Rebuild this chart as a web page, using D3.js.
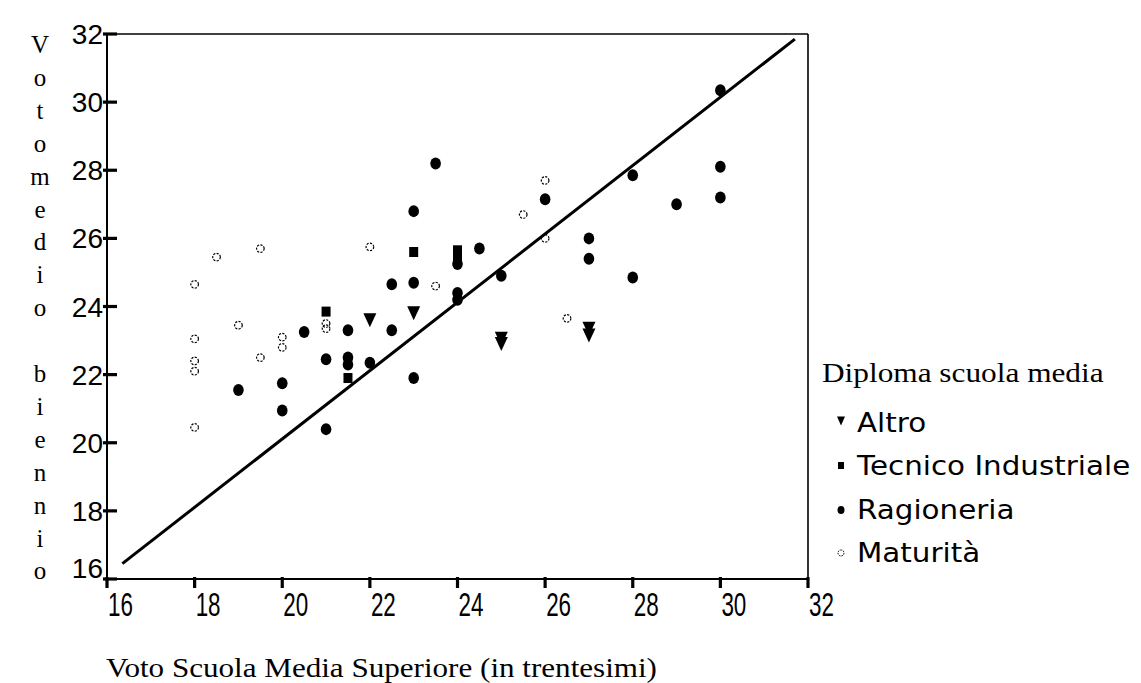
<!DOCTYPE html>
<html><head><meta charset="utf-8">
<script src="https://cdn.jsdelivr.net/npm/d3@7"></script>
<style>body{margin:0;background:#fff}svg{display:block}</style>
</head><body>
<svg id="c" width="1141" height="683"></svg>
<script>
// ---------- data ----------
const xTicks = [16,18,20,22,24,26,28,30,32];
const yTicks = [16,18,20,22,24,26,28,30,32];
const refLineX = [16.35, 31.7];
const refLineY = [16.45, 31.85];

const altroX = [22, 23, 25, 25, 27, 27];
const altroY = [23.6, 23.8, 23.05, 22.9, 23.35, 23.15];

const tecnicoX = [21, 21.5, 23, 24, 24];
const tecnicoY = [23.85, 21.9, 25.6, 25.65, 25.45];

const ragioneriaX = [19, 20, 20, 20.5, 21, 21, 21.5, 21.5, 21.5, 22, 22.5, 22.5, 23, 23, 23, 23.5, 24, 24, 24, 24.5, 25, 26, 27, 27, 28, 28, 29, 30, 30, 30];
const ragioneriaY = [21.55, 21.75, 20.95, 23.25, 22.45, 20.4, 23.3, 22.5, 22.3, 22.35, 24.65, 23.3, 26.8, 24.7, 21.9, 28.2, 25.25, 24.4, 24.2, 25.7, 24.9, 27.15, 26.0, 25.4, 27.85, 24.85, 27.0, 30.35, 28.1, 27.2];

const maturitaX = [18, 18, 18, 18, 18, 18.5, 19, 19.5, 19.5, 20, 20, 21, 21, 22, 23.5, 25.5, 26, 26, 26.5];
const maturitaY = [24.65, 23.05, 22.4, 22.1, 20.45, 25.45, 23.45, 25.7, 22.5, 23.1, 22.8, 23.5, 23.35, 25.75, 24.6, 26.7, 27.7, 26.0, 23.65];

const legendTitle = "Diploma scuola media";
const legendLabels = ["Altro", "Tecnico Industriale", "Ragioneria", "Maturità"];
const xTitle = "Voto Scuola Media Superiore (in trentesimi)";
const yTitleLetters = ["V","o","t","o","m","e","d","i","o","","b","i","e","n","n","i","o"];

// ---------- layout ----------
const svg = d3.select("#c");
const x = d3.scaleLinear().domain([16,32]).range([107,808]);
const y = d3.scaleLinear().domain([16,32]).range([579,34]);
const zip = (a,b) => a.map((v,i)=>({x:v,y:b[i]}));
const SERIF = "Liberation Serif, Times New Roman, serif";
const SANS = "Liberation Sans, Arial, sans-serif";

// frame
svg.append("line").attr("x1",x(16)).attr("x2",x(32)).attr("y1",y(32)).attr("y2",y(32)).attr("stroke","#000").attr("stroke-width",1.6);
svg.append("line").attr("x1",x(32)).attr("x2",x(32)).attr("y1",y(32)).attr("y2",y(16)).attr("stroke","#000").attr("stroke-width",1.6);
svg.append("line").attr("x1",x(16)).attr("x2",x(16)).attr("y1",y(32)).attr("y2",y(16)).attr("stroke","#000").attr("stroke-width",2);
svg.append("line").attr("x1",x(16)).attr("x2",x(32)).attr("y1",y(16)).attr("y2",y(16)).attr("stroke","#000").attr("stroke-width",2.2);

// y ticks
svg.selectAll(".yt").data(yTicks).join("line").attr("class","yt")
  .attr("x1",x(16)-4).attr("x2",x(16)+10).attr("y1",d=>y(d)).attr("y2",d=>y(d))
  .attr("stroke","#000").attr("stroke-width",3.2);
svg.selectAll(".yl").data(yTicks).join("text").attr("class","yl")
  .attr("x",x(16)-4).attr("y",d=>y(d)+ (d===16?-1:10))
  .attr("text-anchor","end").attr("font-family",SANS)
  .attr("font-size",28).text(d=>d);

// x ticks
svg.selectAll(".xt").data(xTicks).join("line").attr("class","xt")
  .attr("x1",d=>x(d)).attr("x2",d=>x(d)).attr("y1",y(16)-2).attr("y2",y(16)+9)
  .attr("stroke","#000").attr("stroke-width",3.2);
svg.selectAll(".xl").data(xTicks).join("text").attr("class","xl")
  .attr("transform",d=>`translate(${x(d)+1},616) scale(0.68,1)`)
  .attr("text-anchor","start").attr("font-family",SANS)
  .attr("font-size",33).text(d=>d);

// reference line
svg.append("line")
  .attr("x1",x(refLineX[0])).attr("y1",y(refLineY[0]))
  .attr("x2",x(refLineX[1])).attr("y2",y(refLineY[1]))
  .attr("stroke","#000").attr("stroke-width",3);

// markers
const tri = (cx,cy,w,h) => `M${cx-w/2},${cy-h/2}L${cx+w/2},${cy-h/2}L${cx},${cy+h/2}Z`;
svg.append("g").selectAll("path").data(zip(altroX,altroY)).join("path")
  .attr("d",d=>tri(x(d.x),y(d.y),13,14)).attr("fill","#000");
svg.append("g").selectAll("rect").data(zip(tecnicoX,tecnicoY)).join("rect")
  .attr("x",d=>x(d.x)-4.5).attr("y",d=>y(d.y)-5).attr("width",9).attr("height",10).attr("fill","#000");
svg.append("g").selectAll("ellipse").data(zip(ragioneriaX,ragioneriaY)).join("ellipse")
  .attr("cx",d=>x(d.x)).attr("cy",d=>y(d.y)).attr("rx",5.3).attr("ry",6).attr("fill","#000");
svg.append("g").selectAll("circle").data(zip(maturitaX,maturitaY)).join("circle")
  .attr("cx",d=>x(d.x)).attr("cy",d=>y(d.y)).attr("r",3.8)
  .attr("fill","none").attr("stroke","#000").attr("stroke-width",1.2).attr("stroke-dasharray","2.2,1.3");

// axis titles
svg.append("text").attr("transform","translate(106,677) scale(1.11,1)")
  .attr("font-family",SERIF).attr("font-size",28).text(xTitle);
svg.selectAll(".ylt").data(yTitleLetters).join("text").attr("class","ylt")
  .attr("x",40).attr("y",(d,i)=>53+i*32.9).attr("text-anchor","middle")
  .attr("font-family",SERIF).attr("font-size",25).text(d=>d);

// legend
svg.append("text").attr("transform","translate(822,382) scale(1.16,1)")
  .attr("font-family",SERIF).attr("font-size",27).text(legendTitle);
const legY = [423,466,510,553];
const lg = svg.append("g");
legendLabels.forEach((lab,i)=>{
  const cy = legY[i], cx = 841;
  if(i===0) lg.append("path").attr("d",tri(cx,cy-2,8,9)).attr("fill","#000");
  if(i===1) lg.append("rect").attr("x",cx-3).attr("y",cy-4).attr("width",6).attr("height",7).attr("fill","#000");
  if(i===2) lg.append("ellipse").attr("cx",cx).attr("cy",cy).attr("rx",3.5).attr("ry",4).attr("fill","#000");
  if(i===3) lg.append("circle").attr("cx",cx).attr("cy",cy).attr("r",3).attr("fill","none").attr("stroke","#000").attr("stroke-width",1).attr("stroke-dasharray","1.6,1");
  lg.append("text").attr("transform",`translate(857,${cy+9}) scale(1.13,1)`)
    .attr("font-family","DejaVu Sans, Verdana, sans-serif").attr("font-size",26).text(lab);
});
</script>
</body></html>
